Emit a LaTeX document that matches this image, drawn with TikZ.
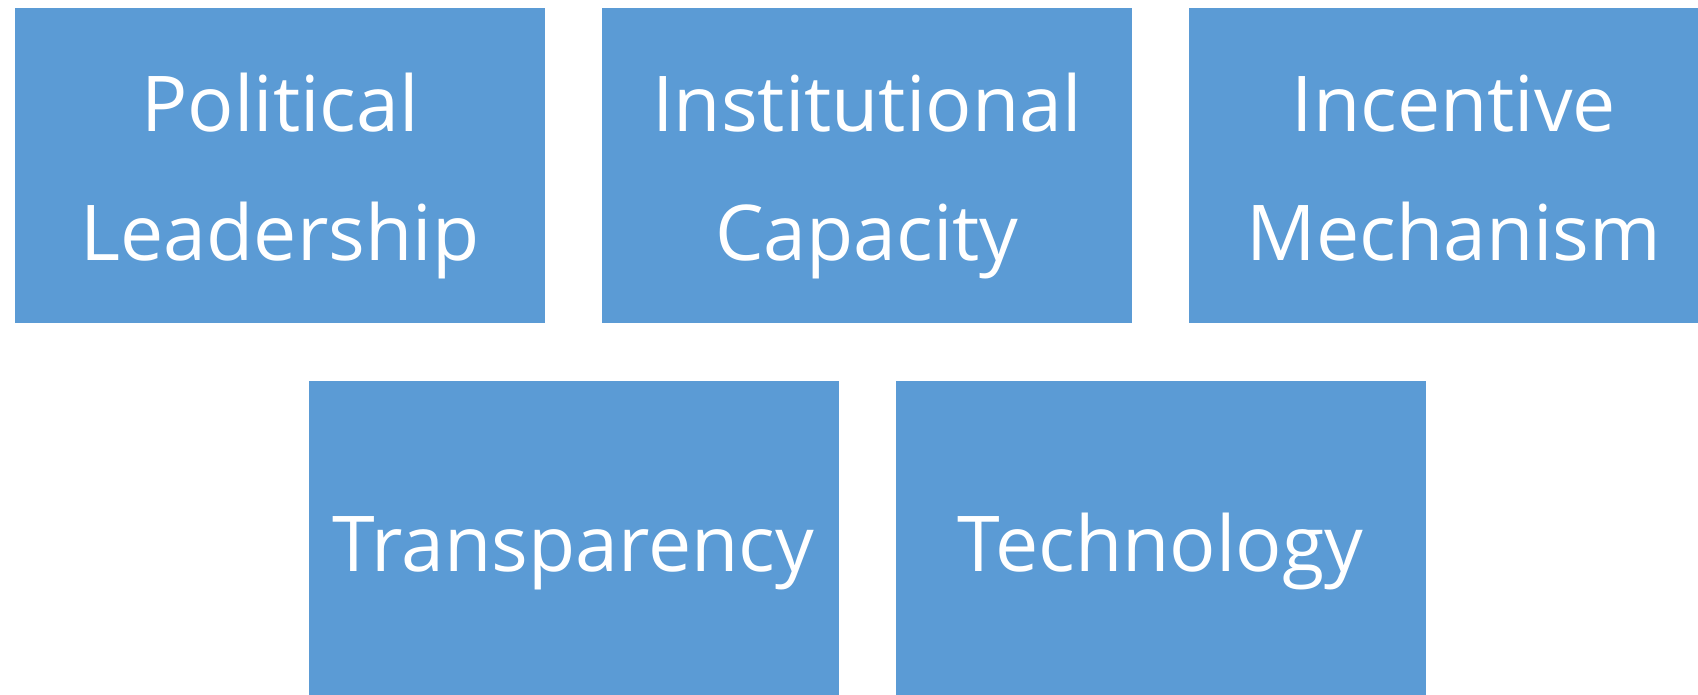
\documentclass[tikz,border=0pt]{standalone}
\usepackage{fontspec}
\setmainfont{Open Sans}
\definecolor{boxblue}{HTML}{5B9BD5}
\tikzset{factor/.style={rectangle,fill=boxblue,text=white,inner sep=0pt,minimum width=530pt,minimum height=315pt,align=center,font=\fontsize{77}{129}\selectfont},
twoline/.style={text height=189pt,text depth=0pt},oneline/.style={text height=65pt,text depth=0pt}}
\begin{document}
\begin{tikzpicture}[x=1pt,y=-1pt]
\useasboundingbox (0,0) rectangle (1698,694);\clip (0,0) rectangle (1698,694);
\node[factor,twoline] (lead) at (280,165.5){Political\\Leadership};
\node[factor,twoline] (inst) at (867,165.5){Institutional\\Capacity};
\node[factor,twoline] (ince) at (1454,165.5){Incentive\\Mechanism};
\node[factor,oneline] (tran) at (573.5,538.5){Transparency};
\node[factor,oneline] (tech) at (1160.5,538.5){Technology};
\end{tikzpicture}
\end{document}
